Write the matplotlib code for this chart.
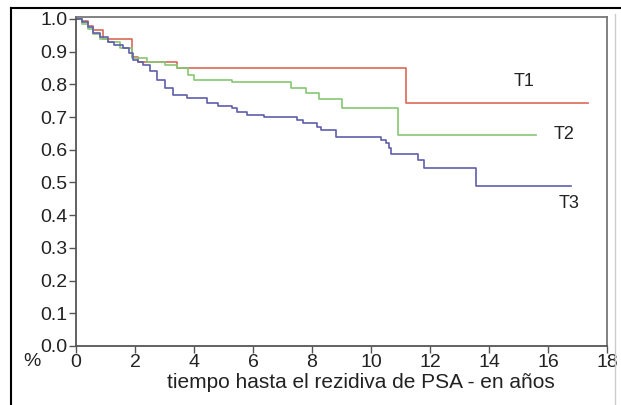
import matplotlib.pyplot as plt
from matplotlib.lines import Line2D

plt.rcParams['font.family'] = ['Liberation Sans', 'DejaVu Sans']

# Kaplan-Meier steps (years, survival)
t1_t = [0, 0.2, 0.4, 0.58, 0.92, 1.9, 2.1, 3.43, 11.18, 17.35]
t1_s = [1.0, 0.994, 0.98, 0.966, 0.939, 0.885, 0.869, 0.85, 0.743, 0.743]

t2_t = [0, 0.2, 0.4, 0.58, 0.8, 1.1, 1.5, 1.9, 2.4, 3.0, 3.43, 3.8, 4.0, 5.3, 7.3, 7.8,
        8.25, 9.03, 10.9, 15.6]
t2_s = [1.0, 0.985, 0.97, 0.955, 0.94, 0.93, 0.912, 0.88, 0.868, 0.858, 0.85, 0.83,
        0.813, 0.807, 0.789, 0.774, 0.755, 0.728, 0.645, 0.645]

t3_t = [0, 0.2, 0.4, 0.58, 0.8, 1.1, 1.3, 1.6, 1.8, 1.94, 2.1, 2.28, 2.5, 2.75, 3.0,
        3.3, 3.77, 4.45, 4.83, 5.3, 5.47, 5.8, 6.36, 7.5, 7.68, 8.18, 8.29, 8.83,
        10.33, 10.5, 10.6, 10.67, 11.58, 11.8, 13.55, 16.78]
t3_s = [1.0, 0.99, 0.976, 0.957, 0.945, 0.93, 0.92, 0.911, 0.895, 0.875, 0.868, 0.86,
        0.84, 0.813, 0.79, 0.768, 0.758, 0.743, 0.734, 0.728, 0.716, 0.706, 0.70,
        0.691, 0.682, 0.67, 0.66, 0.639, 0.63, 0.621, 0.605, 0.587, 0.569, 0.544,
        0.489, 0.489]

labels = ['T1', 'T2', 'T3']
label_pos = [(15.2, 0.81), (16.55, 0.648), (16.7, 0.437)]
colors = ['#dc6a55', '#86c773', '#5f5fab']

fig = plt.figure(figsize=(6.21, 4.05), dpi=100)
ax = fig.add_axes([76 / 621, 59 / 405, 531 / 621, 329 / 405])

for tt, ss, c in zip([t1_t, t2_t, t3_t], [t1_s, t2_s, t3_s], colors):
    ax.step(tt, ss, where='post', color=c, lw=1.2)

for lab, (x, y) in zip(labels, label_pos):
    ax.text(x, y, lab, fontsize=13, ha='center', va='center', color='#222222')

ax.set_xlim(0, 18)
ax.set_ylim(0, 1.006)
ax.set_xticks(range(0, 19, 2))
ax.set_yticks([i / 10 for i in range(11)])
ax.set_yticklabels(['%.1f' % (i / 10) for i in range(11)])
ax.tick_params(labelsize=14, length=5, width=1, color='#555555', labelcolor='#222222', pad=1)
for side in ['left', 'bottom']:
    ax.spines[side].set_color('#555555')
    ax.spines[side].set_linewidth(1.3)
for side in ['top', 'right']:
    ax.spines[side].set_color('#777777')
    ax.spines[side].set_linewidth(1.3)

ax.set_xlabel('tiempo hasta el rezidiva de PSA - en años', fontsize=15, color='#222222', labelpad=1)
ax.xaxis.label.set_x(0.537)
fig.text(32 / 621, 1 - 362 / 405, '%', fontsize=14, ha='center', va='center', color='#222222')

# outer frame
fig.add_artist(Line2D([11 / 621, 11 / 621], [0, 1 - 8 / 405], color='black', lw=1.5))
fig.add_artist(Line2D([11 / 621, 1], [1 - 8 / 405, 1 - 8 / 405], color='black', lw=1.5))
fig.add_artist(Line2D([615 / 621, 615 / 621], [0, 1 - 14 / 405], color='#cccccc', lw=1))

fig.savefig('out.png', dpi=100)
